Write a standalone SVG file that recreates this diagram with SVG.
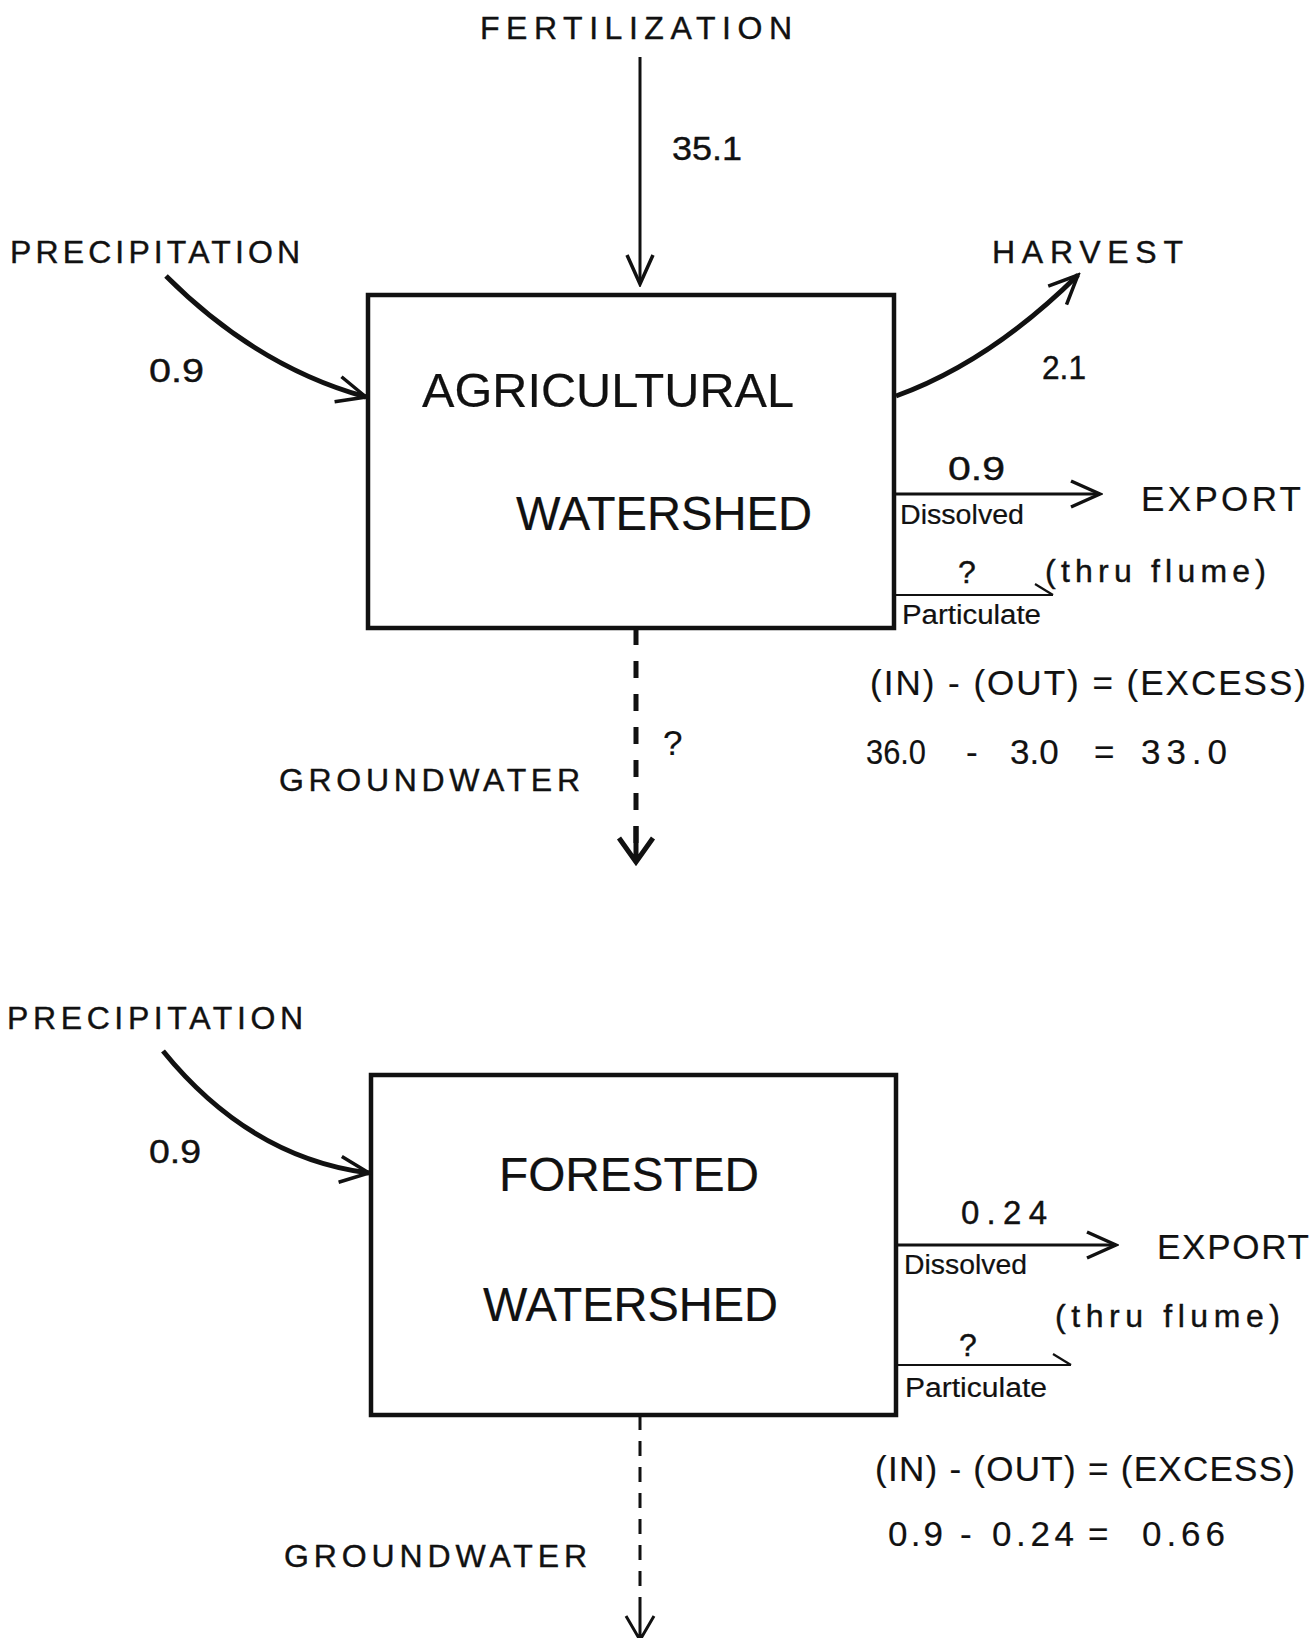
<svg xmlns="http://www.w3.org/2000/svg" width="1313" height="1638" viewBox="0 0 1313 1638">
<style>
text{font-family:"Liberation Sans",Arial,sans-serif;fill:#111;stroke:#111;stroke-width:0.4;}
.lbl{font-size:32px;}
.num{font-size:33px;}
.big{font-size:48px;stroke-width:0.2;}
.sm{font-size:27px;stroke-width:0.2;}
.eq{font-size:35px;stroke-width:0.2;}
.box{fill:none;stroke:#111;stroke-width:4.5;}
.ln{fill:none;stroke:#111;stroke-width:3;}
.thick{fill:none;stroke:#111;stroke-width:5;}
.thin{fill:none;stroke:#111;stroke-width:2;}
</style>
<defs>
<marker id="arr" markerUnits="userSpaceOnUse" viewBox="0 0 34 30" markerWidth="34" markerHeight="30" refX="31" refY="15" orient="auto">
<path d="M2,2 L31,15 L2,28" fill="none" stroke="#111" stroke-width="3.5" stroke-linejoin="miter"/>
</marker>
<marker id="half" markerUnits="userSpaceOnUse" viewBox="0 0 22 14" markerWidth="22" markerHeight="14" refX="20" refY="12" orient="auto">
<path d="M2,1 L20,12" fill="none" stroke="#111" stroke-width="2.2"/>
</marker>
</defs>

<g id="agricultural-section">
<g id="node-agri-box">
<rect class="box" x="368" y="295" width="526" height="333"/>
<text class="big" x="422" y="407" textLength="372" lengthAdjust="spacingAndGlyphs">AGRICULTURAL</text>
<text class="big" x="516" y="530" textLength="296" lengthAdjust="spacingAndGlyphs">WATERSHED</text>
</g>
<g id="node-fertilization"><text class="lbl" x="480" y="39" textLength="312" lengthAdjust="spacing">FERTILIZATION</text></g>
<g id="node-precip-1"><text class="lbl" x="10" y="263" textLength="290" lengthAdjust="spacing">PRECIPITATION</text></g>
<g id="node-harvest"><text class="lbl" x="992" y="263" textLength="191" lengthAdjust="spacing">HARVEST</text></g>
<g id="node-export-1"><text class="eq" x="1141" y="511" textLength="160" lengthAdjust="spacing">EXPORT</text>
<text class="lbl" x="1045" y="582" textLength="221" lengthAdjust="spacing">(thru flume)</text></g>
<g id="node-groundwater-1"><text class="lbl" x="279" y="791" textLength="301" lengthAdjust="spacing">GROUNDWATER</text></g>
<g id="balance-1">
<text class="eq" x="870" y="695" textLength="436" lengthAdjust="spacing">(IN) - (OUT) = (EXCESS)</text>
<text class="eq" x="866" y="764" textLength="60" lengthAdjust="spacingAndGlyphs">36.0</text>
<text class="eq" x="966" y="764">-</text>
<text class="eq" x="1010" y="764">3.0</text>
<text class="eq" x="1094" y="764">=</text>
<text class="eq" x="1141" y="764" textLength="86" lengthAdjust="spacing">33.0</text>
</g>
</g>

<g id="forested-section">
<g id="node-forest-box">
<rect class="box" x="371" y="1075" width="525" height="340"/>
<text class="big" x="499" y="1191" textLength="260" lengthAdjust="spacingAndGlyphs">FORESTED</text>
<text class="big" x="483" y="1321" textLength="295" lengthAdjust="spacingAndGlyphs">WATERSHED</text>
</g>
<g id="node-precip-2"><text class="lbl" x="7" y="1029" textLength="296" lengthAdjust="spacing">PRECIPITATION</text></g>
<g id="node-export-2"><text class="eq" x="1157" y="1259" textLength="152" lengthAdjust="spacing">EXPORT</text>
<text class="lbl" x="1055" y="1327" textLength="225" lengthAdjust="spacing">(thru flume)</text></g>
<g id="node-groundwater-2"><text class="lbl" x="284" y="1567" textLength="303" lengthAdjust="spacing">GROUNDWATER</text></g>
<g id="balance-2">
<text class="eq" x="875" y="1481" textLength="420" lengthAdjust="spacing">(IN) - (OUT) = (EXCESS)</text>
<text class="eq" x="888" y="1546" textLength="55" lengthAdjust="spacing">0.9</text>
<text class="eq" x="960" y="1546">-</text>
<text class="eq" x="992" y="1546" textLength="82" lengthAdjust="spacing">0.24</text>
<text class="eq" x="1088" y="1546">=</text>
<text class="eq" x="1142" y="1546" textLength="83" lengthAdjust="spacing">0.66</text>
</g>
</g>

<g id="connectors">
<!-- top -->
<line class="ln" x1="640" y1="57" x2="640" y2="284" marker-end="url(#arr)"/>
<text class="num" x="672" y="160" textLength="70" lengthAdjust="spacingAndGlyphs">35.1</text>
<path class="thick" d="M166,276 Q257,367 366,397" marker-end="url(#arr)"/>
<text class="num" x="149" y="382" textLength="55" lengthAdjust="spacingAndGlyphs">0.9</text>
<path class="thick" d="M896,396 Q990,362 1078,275" marker-end="url(#arr)"/>
<text class="num" x="1042" y="379" textLength="44" lengthAdjust="spacingAndGlyphs">2.1</text>
<line class="ln" x1="895" y1="494" x2="1100" y2="494" marker-end="url(#arr)"/>
<text class="num" x="948" y="480" textLength="57" lengthAdjust="spacingAndGlyphs">0.9</text>
<text class="sm" x="900" y="524" textLength="124" lengthAdjust="spacingAndGlyphs">Dissolved</text>
<line class="thin" x1="895" y1="595" x2="1053" y2="595" marker-end="url(#half)"/>
<text class="lbl" x="958" y="583">?</text>
<text class="sm" x="902" y="624" textLength="139" lengthAdjust="spacingAndGlyphs">Particulate</text>
<line class="thick" x1="636" y1="628" x2="636" y2="845" stroke-dasharray="17 16"/>
<path class="thick" d="M636,826 L636,861 M619,838 L636,862 L653,838" stroke-width="4.5"/>
<text class="eq" x="663" y="755">?</text>
<!-- bottom -->
<path class="thick" d="M163,1051 Q250,1158 369,1173" marker-end="url(#arr)"/>
<text class="num" x="149" y="1163" textLength="52" lengthAdjust="spacingAndGlyphs">0.9</text>
<line class="ln" x1="896" y1="1245" x2="1116" y2="1245" stroke-width="4" marker-end="url(#arr)"/>
<text class="num" x="961" y="1224" textLength="86" lengthAdjust="spacing">0.24</text>
<text class="sm" x="904" y="1274" textLength="123" lengthAdjust="spacingAndGlyphs">Dissolved</text>
<line class="thin" x1="896" y1="1365" x2="1071" y2="1365" marker-end="url(#half)"/>
<text class="lbl" x="959" y="1356">?</text>
<text class="sm" x="905" y="1397" textLength="142" lengthAdjust="spacingAndGlyphs">Particulate</text>
<line class="ln" x1="640" y1="1415" x2="640" y2="1620" stroke-dasharray="15 11" stroke-width="3.5"/>
<path class="ln" d="M640,1612 L640,1640 M626,1616 L640,1640 L654,1616" stroke-width="3.5"/>
</g>
</svg>
